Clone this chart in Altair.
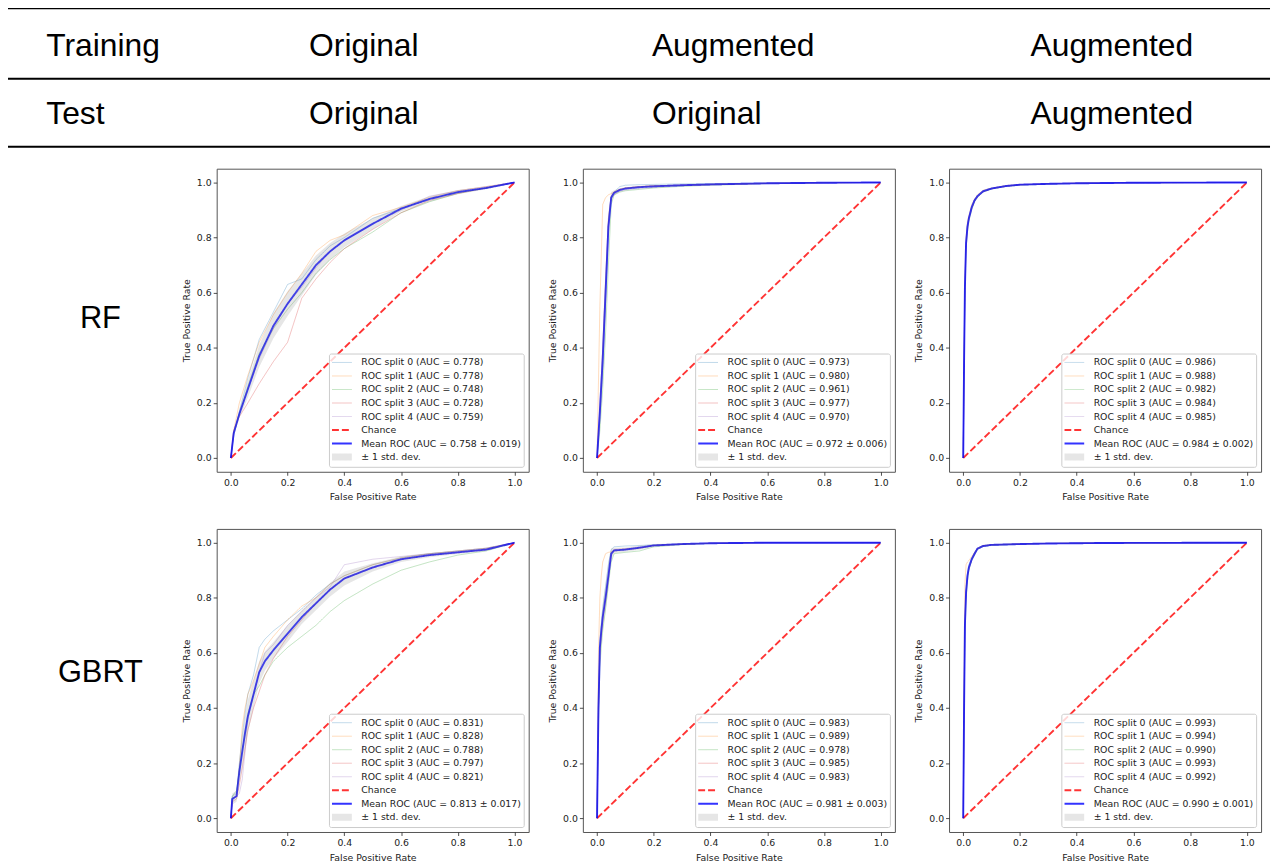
import altair as alt
import pandas as pd

# ---------------- header / labels ----------------
HEADER_LABELS = ["Training", "Test"]
TRAIN_SETS = ["Original", "Augmented", "Augmented"]
TEST_SETS = ["Original", "Original", "Augmented"]
MODELS = ["RF", "GBRT"]
AXIS_TICKS = [0.0, 0.2, 0.4, 0.6, 0.8, 1.0]
SPLIT_COLORS = ["#1f77b4", "#ff7f0e", "#2ca02c", "#d62728", "#9467bd"]

# ---------------- RF, train Original / test Original ----------------
RF_OO_FPR = [0, .01, .03, .06, .1, .15, .2, .25, .3, .35, .4, .5, .6, .7, .8, .9, 1.0]
RF_OO_MEAN = [0, .09, .16, .25, .37, .48, .56, .63, .70, .75, .79, .85, .905, .94, .965, .98, 1.0]
RF_OO_STD = [0, .01, .015, .03, .04, .045, .045, .04, .035, .03, .025, .02, .01, .01, .008, .005, 0]
RF_OO_SPLITS = [
    [0, .08, .17, .29, .43, .53, .63, .65, .72, .77, .80, .87, .905, .94, .965, .98, 1.0],
    [0, .10, .20, .30, .42, .52, .60, .67, .75, .79, .81, .88, .91, .945, .97, .985, 1.0],
    [0, .09, .16, .26, .38, .47, .54, .60, .67, .72, .76, .82, .89, .93, .96, .98, 1.0],
    [0, .10, .15, .20, .27, .35, .42, .58, .65, .71, .76, .83, .89, .935, .96, .98, 1.0],
    [0, .09, .16, .25, .36, .47, .56, .62, .69, .75, .79, .85, .90, .95, .97, .985, 1.0],
]
RF_OO_AUC = [0.778, 0.778, 0.748, 0.728, 0.759]
RF_OO_MEAN_AUC = [0.758, 0.019]

# ---------------- RF, train Augmented / test Original ----------------
RF_AO_FPR = [0, .01, .02, .03, .04, .05, .06, .08, .1, .15, .2, .3, .4, .6, .8, 1.0]
RF_AO_MEAN = [0, .17, .36, .60, .84, .945, .962, .973, .978, .983, .986, .99, .993, .997, .999, 1.0]
RF_AO_STD = [0, .05, .07, .07, .05, .02, .01, .006, .005, .004, .004, .003, .003, .002, .001, 0]
RF_AO_SPLITS = [
    [0, .15, .33, .58, .85, .95, .965, .985, .99, .992, .993, .995, .996, .998, .999, 1],
    [0, .55, .92, .945, .955, .96, .965, .975, .98, .985, .988, .99, .993, .997, .999, 1],
    [0, .10, .25, .45, .70, .92, .955, .965, .97, .975, .98, .986, .99, .996, .999, 1],
    [0, .18, .40, .65, .87, .95, .965, .975, .98, .985, .988, .99, .993, .997, .999, 1],
    [0, .14, .32, .55, .82, .94, .958, .968, .973, .978, .982, .988, .991, .996, .999, 1],
]
RF_AO_AUC = [0.973, 0.980, 0.961, 0.977, 0.970]
RF_AO_MEAN_AUC = [0.972, 0.006]

# ---------------- RF, train Augmented / test Augmented ----------------
RF_AA_FPR = [0, .003, .006, .01, .015, .02, .03, .04, .05, .07, .1, .15, .2, .3, .4, .6, 1.0]
RF_AA_MEAN = [0, .35, .62, .78, .84, .87, .91, .935, .95, .968, .978, .987, .992, .995, .997, .999, 1.0]
RF_AA_STD = [0, .02, .02, .015, .01, .008, .006, .005, .004, .003, .002, .002, .001, .001, .001, 0, 0]
RF_AA_SPLITS = [
    [0, .36, .63, .79, .85, .875, .915, .938, .952, .97, .98, .988, .992, .995, .997, .999, 1],
    [0, .38, .66, .80, .86, .88, .92, .94, .955, .972, .98, .989, .993, .996, .998, .999, 1],
    [0, .32, .58, .76, .82, .86, .90, .93, .945, .965, .976, .985, .99, .994, .997, .999, 1],
    [0, .34, .61, .77, .83, .87, .905, .932, .948, .966, .977, .986, .991, .995, .997, .999, 1],
    [0, .35, .62, .78, .84, .872, .91, .936, .95, .968, .978, .987, .992, .995, .997, .999, 1],
]
RF_AA_AUC = [0.986, 0.988, 0.982, 0.984, 0.985]
RF_AA_MEAN_AUC = [0.984, 0.002]

# ---------------- GBRT, train Original / test Original ----------------
GB_OO_FPR = [0, .005, .02, .03, .04, .05, .06, .08, .1, .12, .15, .2, .25, .3, .35, .4, .5, .6, .7, .8, .9, 1.0]
GB_OO_MEAN = [0, .07, .08, .17, .24, .31, .37, .45, .53, .57, .61, .67, .73, .78, .83, .87, .91, .94, .955, .965, .975, 1.0]
GB_OO_STD = [0, .02, .02, .04, .06, .06, .06, .05, .04, .035, .03, .03, .025, .025, .025, .025, .015, .01, .008, .006, .005, 0]
GB_OO_SPLITS = [
    [0, .08, .09, .20, .30, .38, .45, .52, .62, .65, .68, .72, .76, .81, .85, .88, .92, .945, .96, .97, .98, 1],
    [0, .07, .08, .18, .33, .40, .45, .50, .56, .62, .66, .72, .77, .80, .85, .88, .92, .945, .96, .97, .98, 1],
    [0, .08, .10, .17, .25, .30, .38, .45, .48, .52, .57, .62, .66, .70, .75, .79, .85, .90, .93, .955, .97, 1],
    [0, .06, .07, .12, .18, .25, .32, .40, .46, .52, .58, .66, .72, .78, .83, .87, .91, .94, .955, .965, .975, 1],
    [0, .07, .08, .09, .14, .24, .36, .45, .53, .60, .63, .70, .75, .80, .84, .92, .94, .95, .96, .97, .98, 1],
]
GB_OO_AUC = [0.831, 0.828, 0.788, 0.797, 0.821]
GB_OO_MEAN_AUC = [0.813, 0.017]

# ---------------- GBRT, train Augmented / test Original ----------------
GB_AO_FPR = [0, .005, .01, .015, .02, .03, .04, .05, .06, .1, .15, .2, .3, .4, .6, 1.0]
GB_AO_MEAN = [0, .40, .62, .68, .73, .80, .88, .96, .972, .975, .982, .99, .995, .998, 1.0, 1.0]
GB_AO_STD = [0, .08, .06, .05, .05, .05, .05, .02, .01, .008, .008, .005, .003, .002, 0, 0]
GB_AO_SPLITS = [
    [0, .42, .64, .70, .76, .84, .92, .975, .985, .988, .99, .992, .995, .998, 1, 1],
    [0, .60, .80, .88, .93, .96, .965, .967, .97, .975, .98, .99, .995, .998, 1, 1],
    [0, .35, .55, .62, .68, .76, .85, .93, .96, .965, .97, .985, .993, .997, 1, 1],
    [0, .38, .60, .67, .72, .80, .88, .96, .975, .978, .982, .99, .995, .998, 1, 1],
    [0, .40, .60, .66, .72, .79, .87, .95, .97, .975, .98, .99, .995, .998, 1, 1],
]
GB_AO_AUC = [0.983, 0.989, 0.978, 0.985, 0.983]
GB_AO_MEAN_AUC = [0.981, 0.003]

# ---------------- GBRT, train Augmented / test Augmented ----------------
GB_AA_FPR = [0, .003, .006, .01, .015, .02, .03, .04, .05, .07, .1, .2, .3, .5, 1.0]
GB_AA_MEAN = [0, .40, .70, .82, .88, .91, .94, .96, .978, .988, .992, .995, .997, .999, 1.0]
GB_AA_STD = [0, .03, .03, .02, .01, .008, .006, .005, .004, .003, .002, .002, .001, .001, 0]
GB_AA_SPLITS = [
    [0, .42, .72, .83, .89, .92, .945, .965, .98, .99, .993, .996, .998, .999, 1],
    [0, .55, .85, .92, .93, .935, .95, .965, .98, .99, .993, .996, .998, .999, 1],
    [0, .36, .66, .79, .86, .90, .935, .955, .975, .986, .99, .994, .997, .999, 1],
    [0, .41, .71, .82, .88, .91, .94, .96, .978, .988, .992, .995, .997, .999, 1],
    [0, .39, .69, .81, .875, .905, .938, .958, .976, .987, .991, .995, .997, .999, 1],
]
GB_AA_AUC = [0.993, 0.994, 0.990, 0.993, 0.992]
GB_AA_MEAN_AUC = [0.990, 0.001]

PANEL_W = 314
PANEL_H = 305
FONT = "DejaVu Sans"
TXT = "#222222"


def roc_panel(fpr, mean, std, splits, aucs, mean_auc):
    labels = [f"ROC split {i} (AUC = {a:.3f})" for i, a in enumerate(aucs)]
    labels += ["Chance", f"Mean ROC (AUC = {mean_auc[0]:.3f} \u00b1 {mean_auc[1]:.3f})",
               "\u00b1 1 std. dev."]
    recs = []
    for i, tpr in enumerate(splits):
        recs += [{"fpr": f, "tpr": t, "series": labels[i], "k": k}
                 for k, (f, t) in enumerate(zip(fpr, tpr))]
    recs += [{"fpr": 0.0, "tpr": 0.0, "series": "Chance", "k": 0},
             {"fpr": 1.0, "tpr": 1.0, "series": "Chance", "k": 1}]
    recs += [{"fpr": f, "tpr": t, "series": labels[6], "k": k}
             for k, (f, t) in enumerate(zip(fpr, mean))]
    lines = pd.DataFrame(recs)
    band = pd.DataFrame({
        "fpr": fpr,
        "lo": [max(m - s, 0.0) for m, s in zip(mean, std)],
        "hi": [min(m + s, 1.0) for m, s in zip(mean, std)],
    })

    xs = alt.Scale(domain=[-0.05, 1.05], nice=False, zero=False)
    ys = alt.Scale(domain=[-0.05, 1.05], nice=False, zero=False)
    common_axis = dict(values=AXIS_TICKS, format=".1f", domain=False, grid=False,
                       tickSize=3.5, tickWidth=0.8, tickColor=TXT,
                       labelFont=FONT, labelFontSize=9.4, labelColor=TXT,
                       titleFont=FONT, titleFontSize=9.4, titleFontWeight="normal",
                       titleColor=TXT)
    xaxis = alt.Axis(title="False Positive Rate", labelPadding=3, titlePadding=6.5, **common_axis)
    yaxis = alt.Axis(title="True Positive Rate", labelPadding=2, titlePadding=5, **common_axis)

    legend = alt.Legend(
        title=None, orient="bottom-right", offset=5,
        symbolType="M-2,0L2,0", symbolSize=100,
        symbolOffset=1.5, labelOffset=11,
        clipHeight=12, rowPadding=1.6, padding=3,
        labelFont=FONT, labelFontSize=9.4, labelColor=TXT, labelLimit=400,
        fillColor="rgba(255,255,255,0.8)", strokeColor="#cccccc", cornerRadius=2,
    )

    line_layer = alt.Chart(lines).mark_line().encode(
        x=alt.X("fpr:Q", scale=xs, axis=xaxis),
        y=alt.Y("tpr:Q", scale=ys, axis=yaxis),
        color=alt.Color("series:N", legend=legend,
                        scale=alt.Scale(domain=labels,
                                        range=SPLIT_COLORS + ["#ff0000", "#0000ff", "#808080"])),
        opacity=alt.Opacity("series:N", legend=legend,
                            scale=alt.Scale(type="ordinal", domain=labels,
                                            range=[0.3] * 5 + [0.8, 0.8, 0.2])),
        strokeDash=alt.StrokeDash("series:N", legend=legend,
                                  scale=alt.Scale(domain=labels,
                                                  range=[[1, 0]] * 5 + [[7, 3], [1, 0], [1, 0]])),
        strokeWidth=alt.StrokeWidth("series:N", legend=legend,
                                    scale=alt.Scale(type="ordinal", domain=labels,
                                                    range=[0.95] * 5 + [1.9, 1.9, 7])),
        order="k:Q",
    )
    band_layer = alt.Chart(band).mark_area(color="#808080", opacity=0.2).encode(
        x=alt.X("fpr:Q", scale=xs, axis=xaxis),
        y=alt.Y("lo:Q", scale=ys, axis=yaxis),
        y2="hi:Q",
    )
    return alt.layer(line_layer, band_layer).properties(
        width=PANEL_W, height=PANEL_H,
        view=alt.ViewBackground(stroke="#555555", strokeWidth=1),
    )


CHANNELS = ["color", "opacity", "strokeDash", "strokeWidth"]


def indep(c):
    return c.resolve_scale(**{ch: "independent" for ch in CHANNELS}).resolve_legend(
        **{ch: "independent" for ch in CHANNELS})


def model_label(name, base_y):
    return alt.Chart(pd.DataFrame({"model": [name]})).mark_text(
        font="Liberation Sans", fontSize=31, align="center", baseline="alphabetic",
        color="black").encode(
        text="model:N", x=alt.value(93), y=alt.value(base_y)
    ).properties(width=150, height=PANEL_H)


# header table
header_df = pd.DataFrame({
    "row": [0] * 4 + [1] * 4,
    "col": [0, 1, 2, 3] * 2,
    "text": [HEADER_LABELS[0]] + TRAIN_SETS + [HEADER_LABELS[1]] + TEST_SETS,
})
header_text = alt.Chart(header_df).mark_text(
    font="Liberation Sans", fontSize=32, align="left", baseline="alphabetic", color="black"
).encode(
    x=alt.X("col:Q", scale=alt.Scale(domain=[0, 1, 2, 3], range=[38.5, 303, 648, 1029]), axis=None),
    y=alt.Y("row:Q", scale=alt.Scale(domain=[0, 1], range=[50, 118]), axis=None),
    text="text:N",
)
rule_df = pd.DataFrame({"line": [0, 1, 2]})
header_rules = alt.Chart(rule_df).mark_rule(color="black", strokeWidth=2).encode(
    y=alt.Y("line:Q", scale=alt.Scale(domain=[0, 1, 2], range=[1.5, 72.5, 141]), axis=None),
    x=alt.value(0), x2=alt.value(1270),
)
header = alt.layer(header_rules, header_text).resolve_scale(
    x="independent", y="independent").properties(width=1270, height=143)

p11 = roc_panel(RF_OO_FPR, RF_OO_MEAN, RF_OO_STD, RF_OO_SPLITS, RF_OO_AUC, RF_OO_MEAN_AUC)
p12 = roc_panel(RF_AO_FPR, RF_AO_MEAN, RF_AO_STD, RF_AO_SPLITS, RF_AO_AUC, RF_AO_MEAN_AUC)
p13 = roc_panel(RF_AA_FPR, RF_AA_MEAN, RF_AA_STD, RF_AA_SPLITS, RF_AA_AUC, RF_AA_MEAN_AUC)
p21 = roc_panel(GB_OO_FPR, GB_OO_MEAN, GB_OO_STD, GB_OO_SPLITS, GB_OO_AUC, GB_OO_MEAN_AUC)
p22 = roc_panel(GB_AO_FPR, GB_AO_MEAN, GB_AO_STD, GB_AO_SPLITS, GB_AO_AUC, GB_AO_MEAN_AUC)
p23 = roc_panel(GB_AA_FPR, GB_AA_MEAN, GB_AA_STD, GB_AA_SPLITS, GB_AA_AUC, GB_AA_MEAN_AUC)

row1 = indep(alt.hconcat(model_label(MODELS[0], 160),
                         indep(alt.hconcat(p11, p12, p13, spacing=17.5)), spacing=23))
row2 = indep(alt.hconcat(model_label(MODELS[1], 154),
                         indep(alt.hconcat(p21, p22, p23, spacing=17.5)), spacing=23))
body = indep(alt.vconcat(row1, row2, spacing=25.5))

chart = indep(alt.vconcat(header, body, spacing=18)).properties(
    padding={"left": -2, "top": -5, "right": 0, "bottom": 0}, background="white"
).configure_view(stroke="transparent")

chart.save("out.html", embed_options={"renderer": "svg", "actions": False})
